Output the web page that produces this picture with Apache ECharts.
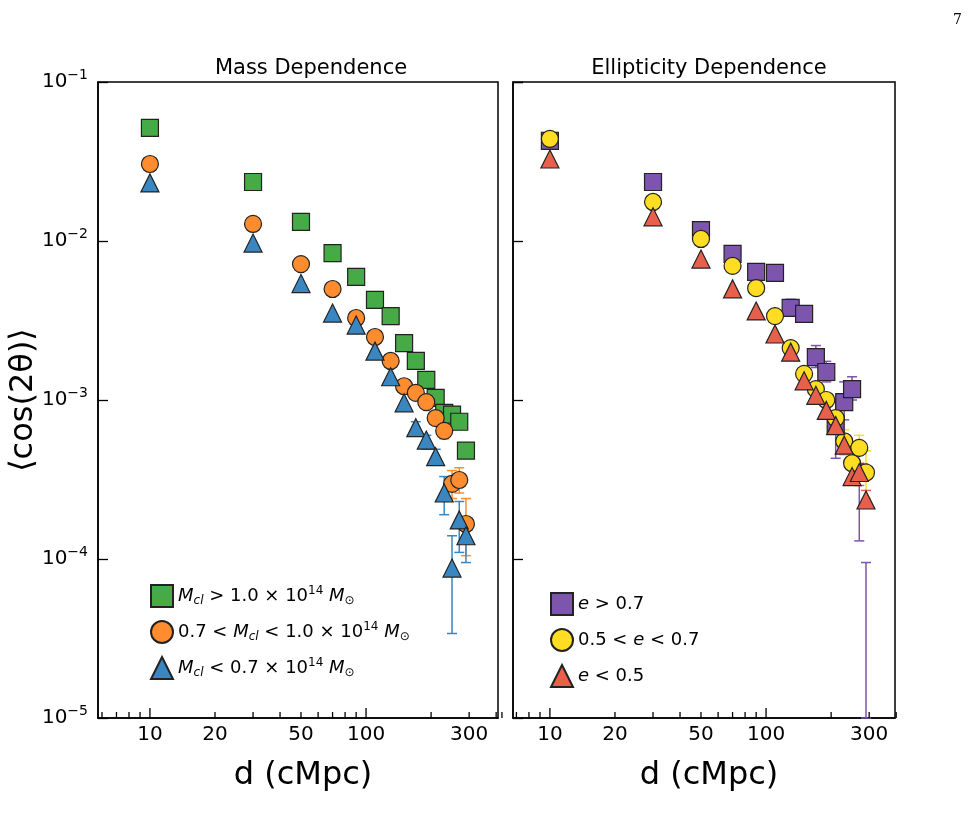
<!DOCTYPE html>
<html>
<head>
<meta charset="utf-8">
<script src="https://cdn.jsdelivr.net/npm/echarts@6/dist/echarts.min.js"></script>
<style>html,body{margin:0;background:#fff}#main{width:969px;height:827px}</style>
</head>
<body>
<div id="main"></div>
<script>
// distances (cMpc)
var dist = [10, 30, 50, 70, 90, 110, 130, 150, 170, 190, 210, 230, 250, 270, 290];

// mass dependence
var massHigh = [0.0514, 0.0235, 0.0132, 0.0084, 0.00594, 0.00426, 0.00337, 0.00228, 0.00176, 0.00134, 0.00103, 0.00083, 0.00081, 0.00073, 0.00048];
var massMid  = [0.0305, 0.0128, 0.00716, 0.00499, 0.00328, 0.00249, 0.00176, 0.00122, 0.00111, 0.00097, 0.00077, 0.00064, 0.000297, 0.000314, 0.000166];
var massLow  = [0.0232, 0.0097, 0.0054, 0.00352, 0.00296, 0.00203, 0.0014, 0.00096, 0.00067, 0.00056, 0.00044, 0.00026, 0.0000877, 0.000176, 0.00014];

// ellipticity dependence
var ellHigh = [0.0426, 0.0235, 0.0117, 0.0083, 0.0064, 0.0063, 0.0038, 0.00348, 0.00186, 0.0015, 0.0007, 0.00097, 0.00117, 0.00035];
var ellMid  = [0.0439, 0.0176, 0.0103, 0.00697, 0.00505, 0.00337, 0.00212, 0.00146, 0.00117, 0.001, 0.00077, 0.00055, 0.0004, 0.0005, 0.00035];
var ellLow  = [0.0328, 0.0142, 0.0077, 0.005, 0.00363, 0.0026, 0.002, 0.00132, 0.00107, 0.00086, 0.00069, 0.00052, 0.00033, 0.00035, 0.000235];

// error bars [d, low, high]
var errHigh = [[290, 0.00044, 0.00052], [250, 0.00076, 0.00086]];
var errMid  = [[230, 0.00057, 0.00072], [250, 0.00024, 0.00036], [270, 0.00026, 0.000375], [290, 0.000105, 0.00024]];
var errLow  = [[170, 0.0006, 0.00073], [190, 0.00049, 0.0006], [210, 0.00039, 0.00049], [230, 0.00019, 0.00033], [250, 0.000034, 0.00014], [270, 0.00011, 0.00023], [290, 0.000095, 0.00018]];
var errEllHigh = [[130, 0.0034, 0.0043], [150, 0.0031, 0.0039], [170, 0.0016, 0.0022], [190, 0.0013, 0.00175], [210, 0.00043, 0.001], [230, 0.00075, 0.0013], [250, 0.001, 0.0014], [270, 0.00013, 0.0005], [290, 0.00001, 0.000095]];
var errEllMid  = [[230, 0.00045, 0.00065], [270, 0.00034, 0.0006], [290, 0.00024, 0.00048]];
var errEllLow  = [[270, 0.00029, 0.0004], [290, 0.00021, 0.00027]];

var xTicks = [10, 20, 50, 100, 300];
var xMinor = [6, 7, 8, 9, 20, 30, 40, 50, 60, 70, 80, 90, 200, 300, 400];

var green = '#46aa46', orange = '#ff8c2e', blue = '#3a86c0';
var purple = '#7d55ad', yellow = '#ffdd22', red = '#e8604c';

function pts(vals) {
    return vals.map(function (v, i) { return [dist[i], v]; });
}

function errSeries(idx, data, color) {
    return {
        type: 'custom', xAxisIndex: idx, yAxisIndex: idx, z: 1, silent: true,
        data: data,
        renderItem: function (params, api) {
            var lo = api.coord([api.value(0), api.value(1)]);
            var hi = api.coord([api.value(0), api.value(2)]);
            var s = {stroke: color, lineWidth: 1.5};
            return {type: 'group', children: [
                {type: 'line', shape: {x1: lo[0], y1: lo[1], x2: hi[0], y2: hi[1]}, style: s},
                {type: 'line', shape: {x1: lo[0] - 5, y1: lo[1], x2: lo[0] + 5, y2: lo[1]}, style: s},
                {type: 'line', shape: {x1: hi[0] - 5, y1: hi[1], x2: hi[0] + 5, y2: hi[1]}, style: s}
            ]};
        }
    };
}

// x tick marks and labels drawn through the axis scale
function tickSeries(idx) {
    var data = xMinor.map(function (v) { return [v, 0]; });
    [10, 100].forEach(function (v) { data.push([v, 1]); });
    return {
        type: 'custom', xAxisIndex: idx, yAxisIndex: idx, silent: true, clip: false,
        data: data,
        renderItem: function (params, api) {
            var v = api.value(0);
            var p = api.coord([v, 1e-5]);
            var major = (v === 10 || v === 100);
            var len = major ? 10 : 6;
            var ch = [{type: 'line', shape: {x1: p[0], y1: p[1], x2: p[0], y2: p[1] - len}, style: {stroke: '#000', lineWidth: 1.3}}];
            if (xTicks.indexOf(v) >= 0 && (api.value(1) === 1 || (v !== 10 && v !== 100))) {
                ch.push({type: 'text', x: p[0], y: p[1] + 7, style: {text: String(v), fill: '#000', font: '20px DejaVu Sans', align: 'center', verticalAlign: 'top'}});
            }
            return {type: 'group', children: ch};
        }
    };
}

function scatter(idx, name, data, symbol, color, size) {
    return {
        type: 'scatter', name: name, xAxisIndex: idx, yAxisIndex: idx, z: 3,
        data: data, symbol: symbol, symbolSize: size,
        itemStyle: {color: color, borderColor: '#222', borderWidth: 1.2, opacity: 1}
    };
}

var rich = {
    i: {fontStyle: 'italic', fontSize: 18, fontFamily: 'DejaVu Sans'},
    sb: {fontStyle: 'italic', fontSize: 12, padding: [9, 0, 0, 0], fontFamily: 'DejaVu Sans'},
    sp: {fontSize: 12, padding: [0, 0, 11, 0], fontFamily: 'DejaVu Sans'},
    n: {fontSize: 18, fontFamily: 'DejaVu Sans'}
};
var labelHigh = 'M_cl > 1.0 × 10^14 M_sun';
var labelMid = '0.7 < M_cl < 1.0 × 10^14 M_sun';
var labelLow = 'M_cl < 0.7 × 10^14 M_sun';
var richNames = {};
richNames[labelHigh] = '{i|M}{sb|cl}{n| > 1.0 × 10}{sp|14}{i| M}{sb|⊙}';
richNames[labelMid] = '{n|0.7 < }{i|M}{sb|cl}{n| < 1.0 × 10}{sp|14}{i| M}{sb|⊙}';
richNames[labelLow] = '{i|M}{sb|cl}{n| < 0.7 × 10}{sp|14}{i| M}{sb|⊙}';
richNames['e > 0.7'] = '{i|e}{n| > 0.7}';
richNames['0.5 < e < 0.7'] = '{n|0.5 < }{i|e}{n| < 0.7}';
richNames['e < 0.5'] = '{i|e}{n| < 0.5}';

function xAxis(idx, min, max) {
    return {
        type: 'log', gridIndex: idx, min: min, max: max, logBase: 10,
        axisLine: {lineStyle: {color: '#000', width: 1.5}},
        axisTick: {show: false}, axisLabel: {show: false}, splitLine: {show: false}, minorTick: {show: false}
    };
}
function yAxis(idx, showLabel) {
    return {
        type: 'log', gridIndex: idx, min: 1e-5, max: 0.1, logBase: 10,
        axisLine: {lineStyle: {color: '#000', width: 1.5}},
        axisTick: {inside: true, length: 10, lineStyle: {color: '#000', width: 1.3}},
        splitLine: {show: false},
        axisLabel: {
            show: showLabel, margin: 10, color: '#000',
            formatter: function (v) {
                var e = Math.round(Math.log10(v));
                return '{b|10}{s|' + String(e).replace('-', '−') + '}';
            },
            rich: {b: {fontSize: 20, fontFamily: 'DejaVu Sans', color: '#000'}, s: {fontSize: 14, fontFamily: 'DejaVu Sans', color: '#000', padding: [0, 0, 13, 0]}}
        }
    };
}

var chart = echarts.init(document.getElementById('main'));
chart.setOption({
    backgroundColor: '#fff',
    animation: false,
    title: [
        {text: 'Mass Dependence', left: 306, top: 53, textAlign: 'center', textStyle: {fontSize: 21, fontWeight: 'normal', fontFamily: 'DejaVu Sans', color: '#000'}},
        {text: 'Ellipticity Dependence', left: 704, top: 53, textAlign: 'center', textStyle: {fontSize: 21, fontWeight: 'normal', fontFamily: 'DejaVu Sans', color: '#000'}},
        {text: 'd (cMpc)', left: 298, top: 755, textAlign: 'center', textStyle: {fontSize: 32, fontWeight: 'normal', fontFamily: 'DejaVu Sans', color: '#000'}},
        {text: 'd (cMpc)', left: 704, top: 755, textAlign: 'center', textStyle: {fontSize: 32, fontWeight: 'normal', fontFamily: 'DejaVu Sans', color: '#000'}},
        {text: '7', left: 948, top: 8, textStyle: {fontSize: 14, fontWeight: 'normal', fontFamily: 'DejaVu Serif', color: '#000'}}
    ],
    graphic: [
        {type: 'text', x: 24, y: 400, rotation: Math.PI / 2, style: {text: '⟨cos(2θ)⟩', font: '32px DejaVu Sans', fill: '#000', align: 'center', verticalAlign: 'middle'}},
        {type: 'rect', shape: {x: 98, y: 82, width: 400, height: 636}, style: {fill: 'none', stroke: '#000', lineWidth: 1.5}, silent: true},
        {type: 'rect', shape: {x: 513, y: 82, width: 382, height: 636}, style: {fill: 'none', stroke: '#000', lineWidth: 1.5}, silent: true}
    ],
    grid: [
        {left: 98, top: 82, width: 400, height: 636},
        {left: 513, top: 82, width: 382, height: 636}
    ],
    legend: [
        {left: 145, top: 579, orient: 'vertical', itemGap: 12, itemWidth: 22, itemHeight: 22,
            data: [labelHigh, labelMid, labelLow],
            formatter: function (n) { return richNames[n]; },
            textStyle: {color: '#000', rich: rich}},
        {left: 545, top: 587, orient: 'vertical', itemGap: 12, itemWidth: 22, itemHeight: 22,
            data: ['e > 0.7', '0.5 < e < 0.7', 'e < 0.5'],
            formatter: function (n) { return richNames[n]; },
            textStyle: {color: '#000', rich: rich}}
    ],
    xAxis: [xAxis(0, 5.75, 408), xAxis(1, 6.75, 395)],
    yAxis: [yAxis(0, true), yAxis(1, false)],
    series: [
        errSeries(0, errHigh, green), errSeries(0, errMid, orange), errSeries(0, errLow, blue),
        errSeries(1, errEllHigh, purple), errSeries(1, errEllMid, yellow), errSeries(1, errEllLow, red),
        scatter(0, labelHigh, pts(massHigh), 'rect', green, 17),
        scatter(0, labelMid, pts(massMid), 'circle', orange, 17),
        scatter(0, labelLow, pts(massLow), 'triangle', blue, 18),
        scatter(1, 'e > 0.7', pts(ellHigh), 'rect', purple, 17),
        scatter(1, '0.5 < e < 0.7', pts(ellMid), 'circle', yellow, 17),
        scatter(1, 'e < 0.5', pts(ellLow), 'triangle', red, 18),
        tickSeries(0), tickSeries(1)
    ]
});
</script>
</body>
</html>
